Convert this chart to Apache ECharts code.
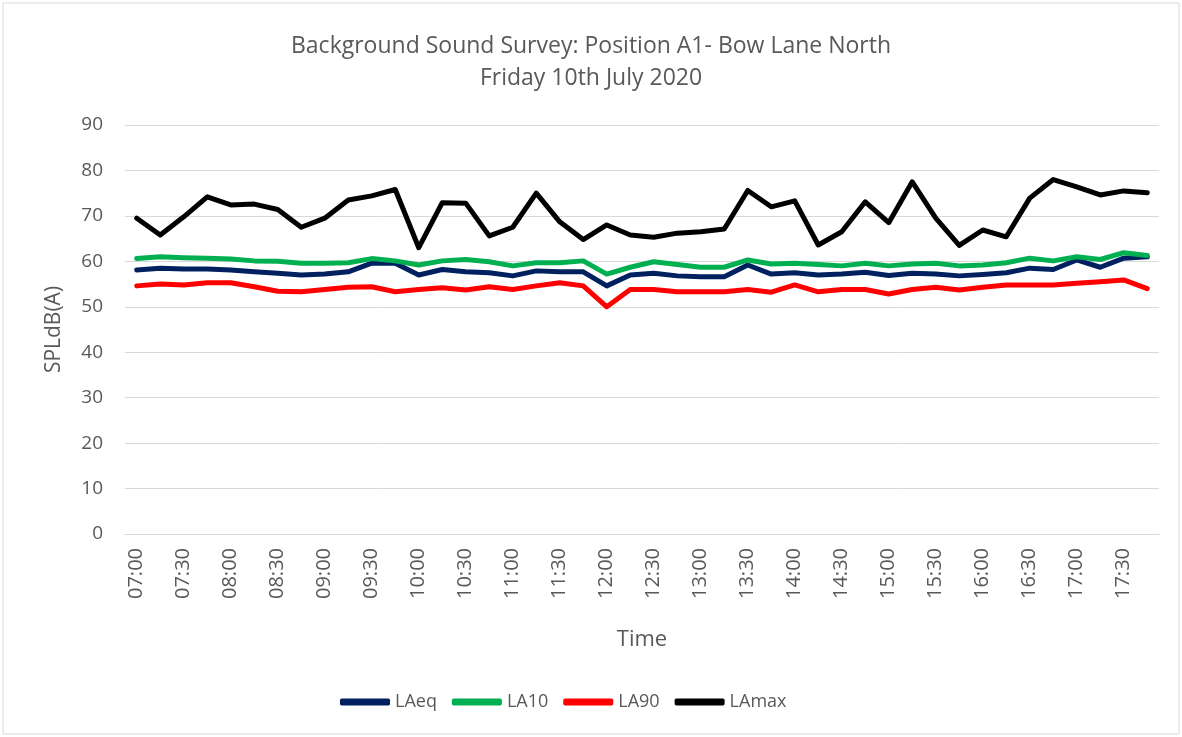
<!DOCTYPE html>
<html>
<head>
<meta charset="utf-8">
<script src="https://cdn.jsdelivr.net/npm/echarts@6/dist/echarts.min.js"></script>
<style>
  html, body { margin: 0; padding: 0; background: #fff; }
  #chart { width: 1182px; height: 737px; }
</style>
</head>
<body>
<div id="chart"></div>
<script>
// 15 minute intervals, 07:00 - 17:45
var times = ['07:00', '07:15', '07:30', '07:45', '08:00', '08:15', '08:30', '08:45',
  '09:00', '09:15', '09:30', '09:45', '10:00', '10:15', '10:30', '10:45',
  '11:00', '11:15', '11:30', '11:45', '12:00', '12:15', '12:30', '12:45',
  '13:00', '13:15', '13:30', '13:45', '14:00', '14:15', '14:30', '14:45',
  '15:00', '15:15', '15:30', '15:45', '16:00', '16:15', '16:30', '16:45',
  '17:00', '17:15', '17:30', '17:45']

var laeq = [58.1, 58.5, 58.3, 58.3, 58.1, 57.7, 57.4, 57.0, 57.2, 57.7, 59.6, 59.6,
  57.0, 58.2, 57.7, 57.5, 56.8, 57.9, 57.7, 57.7, 54.6, 57.0, 57.4, 56.8,
  56.6, 56.6, 59.2, 57.2, 57.5, 57.0, 57.2, 57.6, 56.9, 57.4, 57.2, 56.8,
  57.1, 57.5, 58.5, 58.2, 60.3, 58.7, 60.7, 61.0]

var la10 = [60.6, 61.0, 60.8, 60.7, 60.5, 60.1, 60.0, 59.6, 59.6, 59.7, 60.6, 60.1,
  59.2, 60.1, 60.4, 59.9, 59.0, 59.7, 59.7, 60.1, 57.2, 58.7, 59.9, 59.3,
  58.7, 58.7, 60.3, 59.4, 59.6, 59.3, 59.0, 59.6, 59.0, 59.4, 59.6, 59.0,
  59.2, 59.7, 60.7, 60.1, 61.0, 60.4, 61.9, 61.3]

var la90 = [54.6, 55.0, 54.8, 55.3, 55.3, 54.4, 53.4, 53.3, 53.8, 54.3, 54.4, 53.3,
  53.8, 54.2, 53.7, 54.4, 53.8, 54.6, 55.3, 54.6, 50.0, 53.8, 53.8, 53.3,
  53.3, 53.3, 53.8, 53.2, 54.8, 53.3, 53.8, 53.8, 52.8, 53.8, 54.3, 53.7,
  54.3, 54.8, 54.8, 54.8, 55.2, 55.5, 55.9, 54.0]

var lamax = [69.5, 65.8, 69.8, 74.2, 72.4, 72.6, 71.4, 67.5, 69.5, 73.5, 74.4, 75.8,
  63.0, 72.9, 72.8, 65.6, 67.5, 75.0, 68.7, 64.8, 68.0, 65.8, 65.3, 66.2,
  66.5, 67.1, 75.6, 72.0, 73.3, 63.6, 66.5, 73.1, 68.5, 77.5, 69.5, 63.5,
  66.9, 65.4, 73.9, 78.0, 76.4, 74.6, 75.5, 75.1]

var yTicks = [0, 90, 10] // min, max, interval

var txt = '#595959'
var font = '"Open Sans", "Noto Sans", sans-serif'

var chart = echarts.init(document.getElementById('chart'))

function lineSeries(name, data, color) {
  return {
    name: name,
    type: 'line',
    data: data,
    symbol: 'none',
    smooth: false,
    lineStyle: { color: color, width: 5, cap: 'round', join: 'round' },
    itemStyle: { color: color }
  }
}

var option = {
  animation: false,
  backgroundColor: '#fff',
  textStyle: { fontFamily: font },
  title: {
    text: 'Background Sound Survey: Position A1- Bow Lane North\nFriday 10th July 2020',
    left: 'center',
    top: 25,
    textStyle: { color: txt, fontSize: 23, fontWeight: 'normal', lineHeight: 32, fontFamily: font }
  },
  graphic: [{
    type: 'rect',
    shape: { x: 3, y: 3, width: 1176, height: 731 },
    style: { fill: 'none', stroke: '#d9d9d9', lineWidth: 1 },
    silent: true
  }],
  legend: {
    bottom: 21,
    left: 335,
    icon: 'roundRect',
    itemWidth: 50,
    itemHeight: 7,
    itemGap: 15,
    textStyle: { color: txt, fontSize: 18, fontFamily: font },
    data: ['LAeq', 'LA10', 'LA90', 'LAmax']
  },
  grid: { left: 125, right: 23, top: 125, bottom: 203 },
  xAxis: {
    type: 'category',
    data: times,
    boundaryGap: true,
    name: 'Time',
    nameLocation: 'middle',
    nameGap: 95,
    nameTextStyle: { color: txt, fontSize: 22, fontFamily: font },
    axisLine: { lineStyle: { color: '#d9d9d9', width: 1 } },
    axisTick: { show: false },
    axisLabel: { interval: 1, rotate: 90, color: txt, fontSize: 20, margin: 14, fontFamily: font }
  },
  yAxis: {
    type: 'value',
    min: yTicks[0],
    max: yTicks[1],
    interval: yTicks[2],
    name: 'SPLdB(A)',
    nameLocation: 'middle',
    nameGap: 60,
    nameTextStyle: { color: txt, fontSize: 21, fontFamily: font },
    axisLine: { show: false },
    axisTick: { show: false },
    axisLabel: { color: txt, fontSize: 19, margin: 22, fontFamily: font },
    splitLine: { lineStyle: { color: '#d9d9d9', width: 1 } }
  },
  series: [
    lineSeries('LAeq', laeq, '#002060'),
    lineSeries('LA10', la10, '#00b050'),
    lineSeries('LA90', la90, '#ff0000'),
    lineSeries('LAmax', lamax, '#000000')
  ]
}

chart.setOption(option)
</script>
</body>
</html>
